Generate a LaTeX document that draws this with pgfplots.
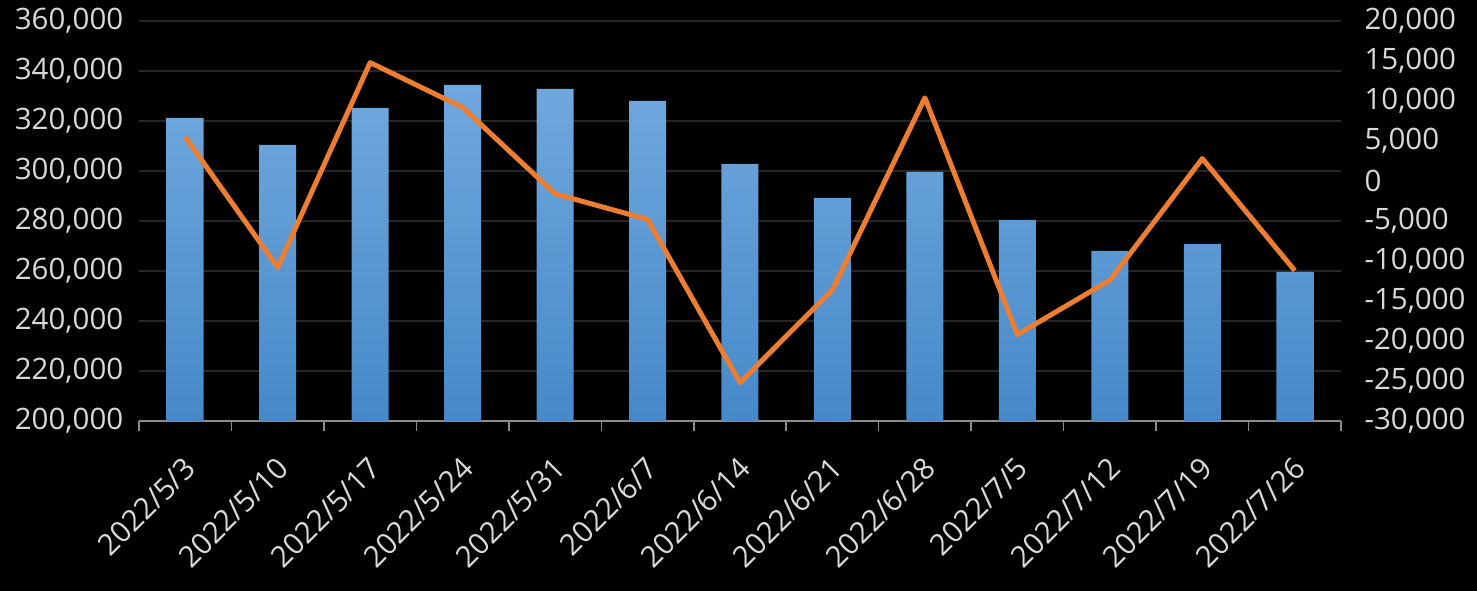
\documentclass[border=0pt]{standalone}
\usepackage{pgfplots}
\pgfplotsset{compat=1.18}
\usepackage{fontspec}
\setmainfont{Open Sans}
\definecolor{lbl}{HTML}{D9D9D9}
\definecolor{grd}{HTML}{262626}
\definecolor{axl}{HTML}{8C8C8C}
\definecolor{bartop}{HTML}{70A8DE}
\definecolor{barbot}{HTML}{4689C9}
\definecolor{ora}{HTML}{ED7D31}
\begin{document}
\begin{tikzpicture}
\fill[black] (-139bp,-170bp) rectangle (1338bp,421bp);
\pgfplotsset{every axis/.append style={
  scale only axis, width=1202bp, height=400bp,
  xmin=-0.5, xmax=12.5,
  font=\fontsize{29.5bp}{34bp}\selectfont,
  scaled y ticks=false,
  /pgf/number format/1000 sep={,},
  /pgf/number format/fixed,
  /pgf/number format/precision=0,
  /pgf/number format/assume math mode=true,
  ytick style={draw=none},
  y axis line style={draw=none},
}}
\begin{axis}[
  ymin=200000, ymax=360000,
  ytick={200000,220000,...,360000},
  axis x line*=bottom, axis y line*=left,
  x axis line style={axl, line width=1.5bp},
  xtick={0,...,12},
  xticklabels={2022/5/3,2022/5/10,2022/5/17,2022/5/24,2022/5/31,2022/6/7,2022/6/14,2022/6/21,2022/6/28,2022/7/5,2022/7/12,2022/7/19,2022/7/26},
  major x tick style={draw=none},
  minor xtick={-0.5,0.5,...,12.5},
  minor x tick style={axl, line width=1.5bp},
  minor tick length=10bp,
  tick align=outside,
  ymajorgrids, major grid style={grd, line width=2bp},
  xticklabel style={rotate=45, anchor=north east, lbl, xshift=-20bp, yshift=-16bp},
  yticklabel style={lbl, xshift=-8bp},
]
\addplot[ybar, bar width=37bp, draw=none, top color=bartop, bottom color=barbot] coordinates {
(0,321200) (1,310400) (2,325200) (3,334400) (4,332800) (5,328000) (6,302800)
(7,289200) (8,299600) (9,280400) (10,268000) (11,270800) (12,259600)};
\end{axis}
\begin{axis}[
  ymin=-30000, ymax=20000,
  ytick={-30000,-25000,...,20000},
  axis y line*=right, axis x line=none,
  yticklabel style={lbl, xshift=20bp},
]
\addplot[ora, line width=5bp, line join=round] coordinates {
(0,5500) (1,-10800) (2,14800) (3,9200) (4,-1600) (5,-4800) (6,-25200)
(7,-13600) (8,10400) (9,-19200) (10,-12400) (11,2800) (12,-11200)};
\end{axis}
\pgfresetboundingbox
\path (-139bp,-170bp) rectangle (1338bp,421bp);
\end{tikzpicture}
\end{document}
